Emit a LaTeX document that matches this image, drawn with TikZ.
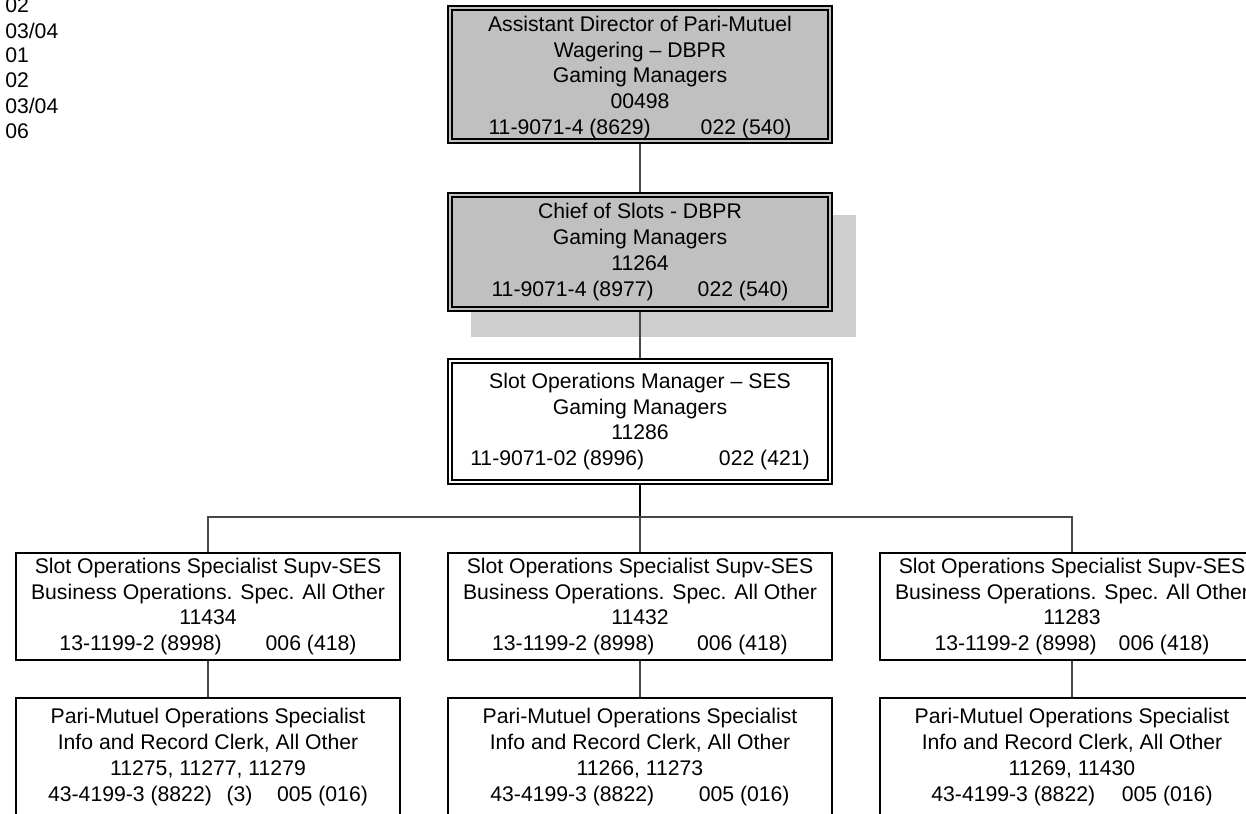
\documentclass[tikz,border=0pt]{standalone}
\usepackage{fontspec}
\setmainfont{Liberation Sans}
\begin{document}
\begin{tikzpicture}[x=0.75pt,y=-0.75pt,
  lbl/.style={font=\fontsize{15.9}{19.3}\selectfont, align=center, inner sep=0pt},
  box/.style={lbl, draw=black, line width=1.5pt, minimum width=288pt},
  grey box/.style={box, fill=boxgray},
  white box/.style={box, fill=white},
  inner line/.style={draw=black, line width=0.9pt},
  link/.style={draw=black!72, line width=0.8pt},
  main link/.style={draw=black, line width=1.4pt},
  side/.style={lbl, anchor=west}
]
\definecolor{boxgray}{RGB}{192,192,192}
\definecolor{shadowgray}{RGB}{206,206,206}
\useasboundingbox (0,0) rectangle (1246,814);
\clip (0,0) rectangle (1246,814);

% level codes listed down the left margin
\node[side] (c1) at (5,5.5)   {02};
\node[side] (c2) at (5,30.5)  {03/04};
\node[side] (c3) at (5,55.5)  {01};
\node[side] (c4) at (5,80.5)  {02};
\node[side] (c5) at (5,106)   {03/04};
\node[side] (c6) at (5,131.5) {06};

% shadow behind the chief's box
\fill[shadowgray] (471,215) rectangle (856,337);

% management chain
\node[grey box, minimum height=102.75pt] (dir) at (640,74.5) {};
\node[lbl] (dirtext) at (640,77.5)
  {Assistant Director of Pari-Mutuel\\Wagering -- DBPR\\Gaming Managers\\00498\\
   11-9071-4 (8629)\hspace{37.5pt}022 (540)};
\node[grey box, minimum height=88.5pt] (chief) at (640,252)
  {Chief of Slots - DBPR\\Gaming Managers\\11264\\
   11-9071-4 (8977)\hspace{33pt}022 (540)};
\node[white box, minimum height=93.75pt] (som) at (640,421.5)
  {Slot Operations Manager -- SES\\Gaming Managers\\11286\\
   11-9071-02 (8996)\hspace{56pt}022 (421)};

% double borders of the management boxes
\foreach \n in {dir,chief,som}
  \draw[inner line] ([shift={(3.75pt,3.75pt)}]\n.south west) rectangle
                    ([shift={(-3.75pt,-3.75pt)}]\n.north east);

% specialist supervisors
\node[white box, minimum height=80.25pt] (sup1) at (208,606.5)
  {Slot Operations Specialist Supv-SES\\Business Operations. Spec. All Other\\11434\\
   13-1199-2 (8998)\hspace{33pt}006 (418)};
\node[white box, minimum height=80.25pt] (sup2) at (640,606.5)
  {Slot Operations Specialist Supv-SES\\Business Operations. Spec. All Other\\11432\\
   13-1199-2 (8998)\hspace{32pt}006 (418)};
\node[white box, minimum height=80.25pt] (sup3) at (1072,606.5)
  {Slot Operations Specialist Supv-SES\\Business Operations. Spec. All Other\\11283\\
   13-1199-2 (8998)\hspace{16.5pt}006 (418)};

% operations specialists
\node[white box, minimum height=88.5pt] (ops1) at (208,757)
  {Pari-Mutuel Operations Specialist\\Info and Record Clerk, All Other\\11275, 11277, 11279\\
   43-4199-3 (8822)\hspace{11pt}(3)\hspace{18.5pt}005 (016)};
\node[white box, minimum height=88.5pt] (ops2) at (640,757)
  {Pari-Mutuel Operations Specialist\\Info and Record Clerk, All Other\\11266, 11273\\
   43-4199-3 (8822)\hspace{33.5pt}005 (016)};
\node[white box, minimum height=88.5pt] (ops3) at (1072,757)
  {Pari-Mutuel Operations Specialist\\Info and Record Clerk, All Other\\11269, 11430\\
   43-4199-3 (8822)\hspace{20pt}005 (016)};

% reporting lines
\coordinate (bus) at (640,517);
\draw[link] (dir.south) -- (chief.north);
\draw[link] (chief.south) -- (som.north);
\draw[main link] (som.south) -- (bus);
\draw[link] (sup1.north) -- (sup1.north |- bus) -- (sup3.north |- bus) -- (sup3.north);
\draw[link] (bus) -- (sup2.north);
\draw[link] (sup1.south) -- (ops1.north);
\draw[link] (sup2.south) -- (ops2.north);
\draw[link] (sup3.south) -- (ops3.north);
\end{tikzpicture}
\end{document}
